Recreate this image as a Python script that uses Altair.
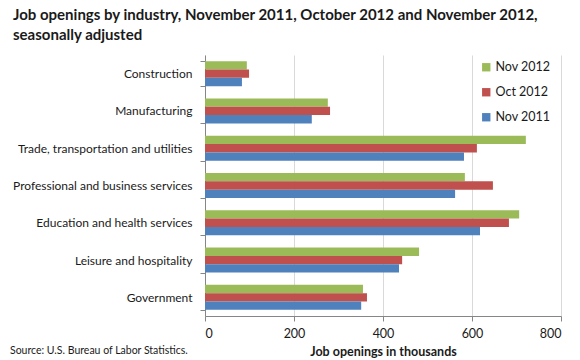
import altair as alt
import pandas as pd

industries = [
    "Construction",
    "Manufacturing",
    "Trade, transportation and utilities",
    "Professional and business services",
    "Education and health services",
    "Leisure and hospitality",
    "Government",
]
series = ["Nov 2012", "Oct 2012", "Nov 2011"]
nov_2012 = [94, 276, 721, 584, 706, 481, 355]
oct_2012 = [99, 281, 611, 647, 683, 443, 364]
nov_2011 = [83, 240, 582, 562, 618, 436, 351]
colors = ["#9BBB59", "#C0504D", "#4F81BD"]

rows = []
for s, vals in zip(series, [nov_2012, oct_2012, nov_2011]):
    for ind, v in zip(industries, vals):
        rows.append({"industry": ind, "series": s, "value": v})
df = pd.DataFrame(rows)

FONT = "Lato"
W, H = 356, 261

bars = alt.Chart(df).mark_bar().encode(
    y=alt.Y("industry:N", sort=industries,
            scale=alt.Scale(paddingInner=0.33, paddingOuter=0.165),
            axis=alt.Axis(title=None, tickBand="extent", grid=False,
                          labelFontSize=12, labelFont=FONT, labelColor="#1a1a1a",
                          labelPadding=8, tickSize=5, domainColor="#868686",
                          tickColor="#868686", labelLimit=300)),
    yOffset=alt.YOffset("series:N", sort=series),
    x=alt.X("value:Q", scale=alt.Scale(domain=[0, 800]),
            axis=alt.Axis(values=[0, 200, 400, 600, 800], title="Job openings in thousands",
                          titleFont=FONT, titleFontSize=12.5, titleFontWeight="bold",
                          titleColor="#1a1a1a", titlePadding=6,
                          labelFont=FONT, labelFontSize=12.5, labelColor="#1a1a1a",
                          labelPadding=6, tickSize=5, gridColor="#D9D9D9",
                          domainColor="#868686", tickColor="#868686")),
    color=alt.Color("series:N", sort=series,
                    scale=alt.Scale(domain=series, range=colors),
                    legend=alt.Legend(title=None, orient="none", legendX=275, legendY=6,
                                      symbolType="square", symbolSize=70,
                                      symbolStrokeWidth=0, labelFont=FONT,
                                      labelFontSize=12.5, labelColor="#1a1a1a",
                                      rowPadding=12, labelOffset=3)),
)

src = alt.Chart(pd.DataFrame({"t": ["Source: U.S. Bureau of Labor Statistics."]})).mark_text(
    align="left", baseline="middle", font=FONT, fontSize=10.5, color="#1a1a1a"
).encode(text="t:N", x=alt.value(-195), y=alt.value(H + 35))

chart = alt.layer(bars, src).properties(
    width=W, height=H,
    title=alt.TitleParams(
        text=["Job openings by industry, November 2011, October 2012 and November 2012,",
              "seasonally adjusted"],
        anchor="start", frame="group", dx=-192, fontSize=15, fontWeight="bold", font=FONT,
        color="#1a1a1a", lineHeight=20, offset=6),
    autosize=alt.AutoSizeParams(type="none"),
    padding={"left": 197, "top": 47, "right": 10, "bottom": 50},
).configure_view(stroke=None)

chart.save("out.html", embed_options={"renderer": "svg", "actions": False})
